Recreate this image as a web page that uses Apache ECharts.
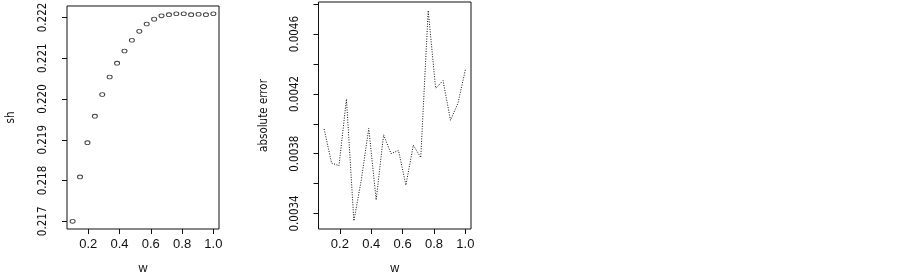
<!DOCTYPE html>
<html>
<head>
<meta charset="utf-8">
<script src="https://cdn.jsdelivr.net/npm/echarts@6/dist/echarts.min.js"></script>
<style>
html,body{margin:0;padding:0;background:#fff;}
#chart{width:903px;height:280px;}
</style>
</head>
<body>
<div id="chart"></div>
<script>
// x values (w)
var wValues = [0.1, 0.1474, 0.1947, 0.2421, 0.2895, 0.3368, 0.3842, 0.4316, 0.4789, 0.5263,
               0.5737, 0.6211, 0.6684, 0.7158, 0.7632, 0.8105, 0.8579, 0.9053, 0.9526, 1.0];
// left panel: sh
var shValues = [0.21700, 0.21809, 0.21893, 0.21958, 0.22011, 0.22054, 0.22088, 0.22118, 0.22144, 0.22166,
                0.22184, 0.22196, 0.22204, 0.22207, 0.22209, 0.22209, 0.22207, 0.22208, 0.22207, 0.22209];
// right panel: absolute error
var errValues = [0.003965, 0.003737, 0.003720, 0.004165, 0.003350, 0.003624, 0.003969, 0.003491, 0.003926, 0.003800,
                 0.003822, 0.003589, 0.003857, 0.003774, 0.004758, 0.004237, 0.004289, 0.004024, 0.004137, 0.004361];
// tick values
var xTicks = [0.2, 0.4, 0.6, 0.8, 1.0];
var shTicks = [0.217, 0.218, 0.219, 0.220, 0.221, 0.222];
var errTicks = [0.0034, 0.0036, 0.0038, 0.0040, 0.0042, 0.0044, 0.0046, 0.0048];
var errLabels = [0.0034, 0.0038, 0.0042, 0.0046];

var ink = '#111';
var regFont = "'Liberation Sans', Arial, sans-serif";
var narrowFont = "'Liberation Sans Narrow', 'DejaVu Sans Condensed', 'Liberation Sans', sans-serif";

function pairs(xs, ys) { return xs.map(function (x, i) { return [x, ys[i]]; }); }

function xAxisDef(gi) {
  return {
    type: 'value', gridIndex: gi, min: 0.064, max: 1.036,
    name: 'w', nameLocation: 'middle', nameGap: 33,
    nameTextStyle: { color: ink, fontFamily: regFont, fontSize: 12.5 },
    axisLine: { show: false },
    splitLine: { show: false },
    axisTick: { show: true, inside: false, length: 5, customValues: xTicks, lineStyle: { color: ink, width: 1 } },
    axisLabel: { customValues: xTicks, margin: 9, color: ink, fontFamily: regFont, fontSize: 13,
      formatter: function (v) { return v.toFixed(1); } }
  };
}

var chart = echarts.init(document.getElementById('chart'), null, { renderer: 'canvas' });
chart.setOption({
  backgroundColor: '#fff',
  animation: false,
  grid: [
    { left: 67, top: 2, width: 152, height: 233, show: true, borderColor: ink, borderWidth: 1, backgroundColor: 'transparent' },
    { left: 318.5, top: 2, width: 152.5, height: 233, show: true, borderColor: ink, borderWidth: 1, backgroundColor: 'transparent' }
  ],
  xAxis: [xAxisDef(0), xAxisDef(1)],
  yAxis: [
    {
      type: 'value', gridIndex: 0, min: 0.216812, max: 0.222282,
      name: 'sh', nameLocation: 'middle', nameGap: 50, nameRotate: 90,
      nameTextStyle: { color: ink, fontFamily: narrowFont, fontSize: 11.5 },
      axisLine: { show: false }, splitLine: { show: false },
      axisTick: { show: true, inside: false, length: 5, customValues: shTicks, lineStyle: { color: ink, width: 1 } },
      axisLabel: { customValues: shTicks, rotate: 90, margin: 18, color: ink, fontFamily: narrowFont, fontSize: 11.5,
        formatter: function (v) { return v.toFixed(3); } }
    },
    {
      type: 'value', gridIndex: 1, min: 0.003296, max: 0.004815,
      name: 'absolute error', nameLocation: 'middle', nameGap: 48, nameRotate: 90,
      nameTextStyle: { color: ink, fontFamily: narrowFont, fontSize: 11.5 },
      axisLine: { show: false }, splitLine: { show: false },
      axisTick: { show: true, inside: false, length: 5, customValues: errTicks, lineStyle: { color: ink, width: 1 } },
      axisLabel: { customValues: errLabels, rotate: 90, margin: 17, color: ink, fontFamily: narrowFont, fontSize: 11.5,
        formatter: function (v) { return v.toFixed(4); } }
    }
  ],
  series: [
    {
      type: 'scatter', xAxisIndex: 0, yAxisIndex: 0,
      data: pairs(wValues, shValues),
      symbol: 'circle', symbolSize: [5, 3.8],
      itemStyle: { color: '#fff', borderColor: ink, borderWidth: 0.9 },
      emphasis: { disabled: true }
    },
    {
      type: 'line', xAxisIndex: 1, yAxisIndex: 1,
      data: pairs(wValues, errValues),
      symbol: 'none', smooth: false,
      lineStyle: { color: ink, width: 1, type: [1, 1.5] },
      emphasis: { disabled: true }
    }
  ]
});
</script>
</body>
</html>
